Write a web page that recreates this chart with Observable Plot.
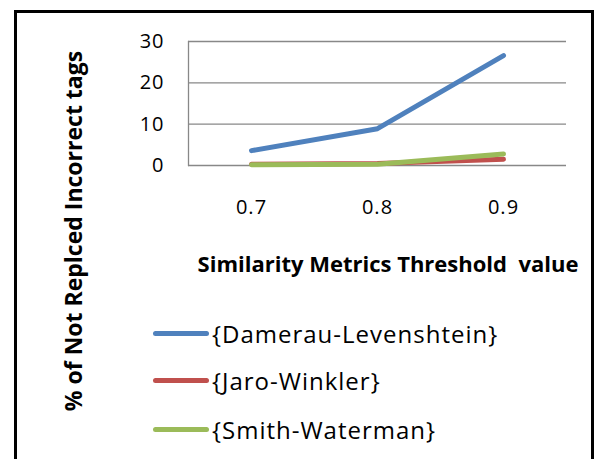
<!DOCTYPE html>
<html><head><meta charset="utf-8">
<script src="https://cdn.jsdelivr.net/npm/d3@7"></script>
<script src="https://cdn.jsdelivr.net/npm/@observablehq/plot@0.6"></script>
<style>
body{margin:0;background:#fff;overflow:hidden;font-family:"Open Sans",sans-serif;}
#wrap{position:relative;width:598px;height:459px;overflow:hidden;}
#border{position:absolute;left:14px;top:10px;width:580px;height:470px;border:3px solid #000;box-sizing:border-box;}
#chart{position:absolute;left:0;top:0;}
#chart svg text{font-size:20px !important;letter-spacing:1px;fill:#000;}
#ylab{position:absolute;left:73px;top:231px;transform:translate(-50%,-50%) rotate(-90deg);white-space:pre;font-weight:bold;font-size:23px;}
#xlab{position:absolute;left:388px;top:263px;transform:translate(-50%,-50%);white-space:pre;font-weight:bold;font-size:22px;}
.leg{position:absolute;left:153px;display:flex;align-items:center;font-size:24px;letter-spacing:1px;white-space:nowrap;}
.leg span.sw{display:inline-block;width:56px;height:5px;border-radius:3px;margin-right:3px;}
</style></head>
<body><div id="wrap"><div id="border"></div><div id="chart"></div>
<div id="ylab"></div><div id="xlab"></div><div id="legend"></div></div>
<script>
const thresholds = ["0.7","0.8","0.9"];
const seriesNames = ["{Damerau-Levenshtein}","{Jaro-Winkler}","{Smith-Waterman}"];
const damerau = [3.6, 8.9, 26.6];
const jaro = [0.3, 0.5, 1.5];
const smith = [0.2, 0.3, 2.8];
const yTicks = [0,10,20,30];
const colors = ["#4F81BD","#C0504D","#9BBB59"];
const yTitle = "% of Not Replced Incorrect tags";
const xTitle = "Similarity Metrics Threshold  value";

const values = [damerau, jaro, smith];
const data = [];
seriesNames.forEach((s,i)=>thresholds.forEach((t,j)=>data.push({series:s,x:t,y:values[i][j]})));

const plot = Plot.plot({
  width:598, height:230,
  marginLeft:188, marginRight:32, marginTop:41, marginBottom:65,
  style:{fontFamily:"Open Sans, sans-serif", fontSize:"20px", color:"#000", background:"transparent"},
  x:{type:"point", domain:thresholds, padding:0.5, label:null},
  y:{domain:[0,30], label:null},
  color:{domain:seriesNames, range:colors},
  marks:[
    Plot.ruleY(yTicks,{stroke:"#888",strokeWidth:1.3}),
    Plot.frame({anchor:"left",stroke:"#888",strokeWidth:1.3}),
    Plot.axisY(yTicks,{tickSize:0,tickPadding:24,label:null}),
    Plot.axisX({tickSize:0,tickPadding:34,label:null}),
    Plot.line(data,{x:"x",y:"y",z:"series",stroke:"series",strokeWidth:5,strokeLinecap:"round",strokeLinejoin:"round"})
  ]
});
document.getElementById("chart").appendChild(plot);
document.getElementById("ylab").textContent = yTitle;
document.getElementById("xlab").textContent = xTitle;
const legY = [333,380,429];
const leg = document.getElementById("legend");
seriesNames.forEach((s,i)=>{
  const d = document.createElement("div");
  d.className="leg";
  d.style.top=(legY[i]-16)+"px";
  d.style.height="32px";
  d.innerHTML=`<span class="sw" style="background:${colors[i]}"></span><span>${s}</span>`;
  leg.appendChild(d);
});
</script></body></html>
